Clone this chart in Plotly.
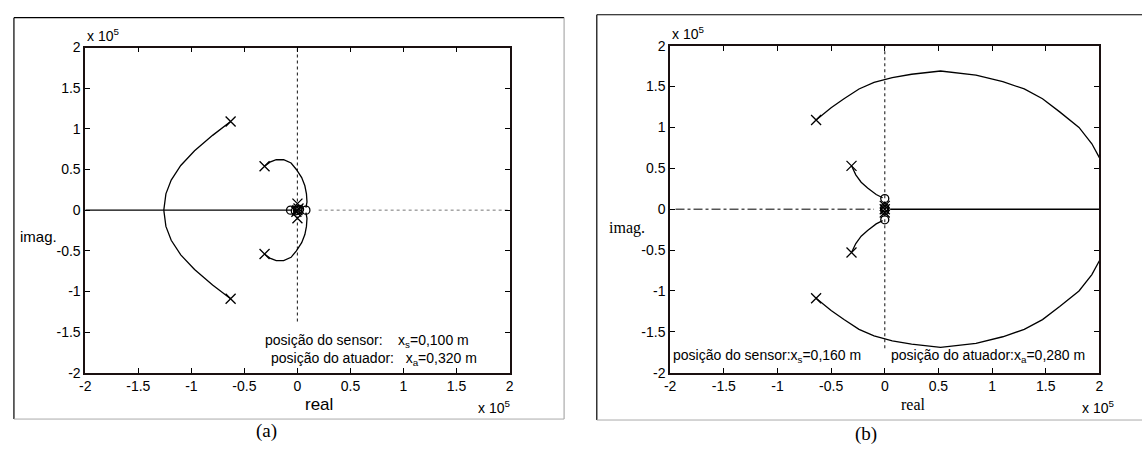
import plotly.graph_objects as go

W, H = 1147, 456

# ---------------- data (units of 1e5) ----------------
tick_vals = [-2, -1.5, -1, -0.5, 0, 0.5, 1, 1.5, 2]
tick_text = ["-2", "-1.5", "-1", "-0.5", "0", "0.5", "1", "1.5", "2"]

# (a) left panel
a_big_re = [-0.63, -0.80, -0.97, -1.10, -1.19, -1.24, -1.26]
a_big_im = [1.09, 0.92, 0.73, 0.55, 0.37, 0.20, 0.00]
a_small_re = [-0.31, -0.26, -0.20, -0.13, -0.06, -0.01, 0.04, 0.07, 0.085, 0.09, 0.08]
a_small_im = [0.54, 0.59, 0.62, 0.62, 0.58, 0.50, 0.40, 0.30, 0.20, 0.10, 0.03]
a_poles_re = [-0.63, -0.63, -0.31, -0.31, 0.0, 0.0, 0.0, 0.01, -0.01]
a_poles_im = [1.09, -1.09, 0.54, -0.54, 0.08, -0.10, 0.0, 0.02, -0.02]
a_zeros_re = [-0.065, 0.08, 0.0, 0.02, -0.02]
a_zeros_im = [0.0, 0.0, 0.0, 0.01, -0.01]
a_realaxis_solid = [-2.0, -0.05]
a_realaxis_dot = [0.2, 2.0]
a_imagaxis = [-1.37, 2.0]

# (b) right panel
b_big_re = [-0.64, -0.50, -0.38, -0.24, -0.10, 0.07, 0.25, 0.52, 0.85, 1.10, 1.30, 1.47, 1.63, 1.81, 1.93, 2.0]
b_big_im = [1.09, 1.24, 1.35, 1.47, 1.55, 1.61, 1.65, 1.69, 1.64, 1.56, 1.47, 1.35, 1.19, 1.00, 0.80, 0.63]
b_small_re = [-0.31, -0.27, -0.22, -0.16, -0.08, -0.02]
b_small_im = [0.53, 0.42, 0.33, 0.26, 0.18, 0.14]
b_poles_re = [-0.64, -0.64, -0.31, -0.31, 0.0, 0.0, 0.0]
b_poles_im = [1.09, -1.09, 0.53, -0.53, 0.04, -0.04, 0.0]
b_zeros_re = [0.0, 0.0, 0.0, 0.0, 0.0]
b_zeros_im = [0.13, -0.13, 0.02, -0.02, 0.0]
b_realaxis_solid = [0.05, 2.0]
b_realaxis_dashdot = [-1.95, -0.1]
b_imagaxis = [-1.7, 2.0]

fig = go.Figure()


def line(xs, ys, ax, color="black", width=1.3, dash="solid"):
    fig.add_trace(go.Scatter(x=xs, y=ys, mode="lines", xaxis=ax[0], yaxis=ax[1],
                             line=dict(color=color, width=width, dash=dash),
                             showlegend=False, hoverinfo="skip"))


def mirror(v):
    return [-t for t in v]


def markers(xs, ys, ax, symbol, size):
    fig.add_trace(go.Scatter(x=xs, y=ys, mode="markers", xaxis=ax[0], yaxis=ax[1],
                             marker=dict(symbol=symbol, size=size, color="black",
                                         line=dict(color="black", width=1.3)),
                             showlegend=False, hoverinfo="skip"))


A = ("x", "y")
B = ("x2", "y2")

# panel (a)
line(a_realaxis_solid, [0, 0], A, width=1.4)
line(a_realaxis_dot, [0, 0], A, color="#777777", width=1, dash="dot")
line([0, 0], a_imagaxis, A, color="#333333", width=1.2, dash="dot")
line(a_big_re, a_big_im, A)
line(a_big_re, mirror(a_big_im), A)
line(a_small_re, a_small_im, A)
line(a_small_re, mirror(a_small_im), A)
markers(a_poles_re, a_poles_im, A, "x-thin-open", 10)
markers(a_zeros_re, a_zeros_im, A, "circle-open", 8)

# panel (b)
line(b_realaxis_solid, [0, 0], B, width=1.4)
line(b_realaxis_dashdot, [0, 0], B, width=1, dash="dashdot")
line([0, 0], b_imagaxis, B, color="#333333", width=1.2, dash="dot")
line(b_big_re, b_big_im, B)
line(b_big_re, mirror(b_big_im), B)
line(b_small_re, b_small_im, B)
line(b_small_re, mirror(b_small_im), B)
markers(b_poles_re, b_poles_im, B, "x-thin-open", 10)
markers(b_zeros_re, b_zeros_im, B, "circle-open", 8)

ARIAL = "Liberation Sans, Arial, sans-serif"
TIMES = "Liberation Serif, Times New Roman, serif"


def axis_common(domain):
    return dict(domain=domain, range=[-2, 2], tickvals=tick_vals, ticktext=tick_text,
                ticks="inside", ticklen=5, tickcolor="black", tickwidth=1,
                showline=True, linecolor="#1a1010", linewidth=1.8, mirror="ticks",
                showgrid=False, zeroline=False,
                tickfont=dict(family=ARIAL, size=14, color="black"))


ya_dom = [1 - 378 / H, 1 - 41 / H]
yb_dom = [1 - 378 / H, 1 - 39 / H]

fig.update_layout(
    width=W, height=H, margin=dict(l=0, r=0, t=0, b=0),
    paper_bgcolor="white", plot_bgcolor="white",
    xaxis=dict(axis_common([80 / W, 508 / W]), anchor="y"),
    yaxis=dict(axis_common(ya_dom), anchor="x"),
    xaxis2=dict(axis_common([670 / W, 1103 / W]), anchor="y2"),
    yaxis2=dict(axis_common(yb_dom), anchor="x2"),
)

ann = []


def txt(text, x, y, size, family=ARIAL, xanchor="center", xref="paper", yref="paper"):
    ann.append(dict(text=text, x=x, y=y, xref=xref, yref=yref, showarrow=False,
                    xanchor=xanchor, yanchor="middle",
                    font=dict(family=family, size=size, color="black")))


# panel (a) texts
txt("x 10<sup>5</sup>", 80 / W, 1 - 28 / H, 14, xanchor="left")
txt("x 10<sup>5</sup>", 510 / W, 1 - 414 / H, 14, xanchor="right")
txt("imag.", 33 / W, 1 - 237 / H, 15)
txt("real", 316 / W, 1 - 411 / H, 17)
txt("posição do sensor:    x<sub>s</sub>=0,100 m", 0.66, -1.61, 14, xref="x", yref="y")
txt("posição do atuador:   x<sub>a</sub>=0,320 m", 0.72, -1.83, 14, xref="x", yref="y")
txt("(a)", 263 / W, 1 - 438 / H, 19, family=TIMES)

# panel (b) texts
txt("x 10<sup>5</sup>", 670 / W, 1 - 26 / H, 14, xanchor="left")
txt("x 10<sup>5</sup>", 1120 / W, 1 - 414 / H, 14, xanchor="right")
txt("imag.", 626 / W, 1 - 228 / H, 16, family=TIMES)
txt("real", 915 / W, 1 - 411 / H, 16, family=TIMES)
txt("posição do sensor:x<sub>s</sub>=0,160 m", -1.99, -1.79, 14, xanchor="left", xref="x2", yref="y2")
txt("posição do atuador:x<sub>a</sub>=0,280 m", 0.04, -1.79, 14, xanchor="left", xref="x2", yref="y2")
txt("(b)", 868 / W, 1 - 442 / H, 19, family=TIMES)

fig.update_layout(annotations=ann)

# outer boxes (figure frames)
shapes = []


def seg(x0, y0, x1, y1, color, width=1.2):
    shapes.append(dict(type="line", xref="paper", yref="paper",
                       x0=x0 / W, y0=1 - y0 / H, x1=x1 / W, y1=1 - y1 / H,
                       line=dict(color=color, width=width)))


seg(8, 10, 563, 10, "black")
seg(8, 10, 8, 426, "black")
seg(563, 10, 563, 426, "#999999", 1)
seg(8, 426, 563, 426, "#aaaaaa", 1)

seg(596, 7, 1146, 7, "black")
seg(596, 7, 596, 427, "black")
seg(596, 427, 1146, 427, "#aaaaaa", 1)

fig.update_layout(shapes=shapes)

post = (
    "document.documentElement.style.margin='0';"
    "document.documentElement.style.padding='0';"
    "document.documentElement.style.overflow='hidden';"
    "document.body.style.margin='0';"
    "document.body.style.padding='0';"
    "document.body.style.overflow='hidden';"
    "var gd=document.querySelector('.plotly-graph-div');"
    "gd.style.position='fixed';gd.style.left='0px';gd.style.top='0px';"
)

fig.write_html("out.html", config={"displayModeBar": False}, post_script=post)
